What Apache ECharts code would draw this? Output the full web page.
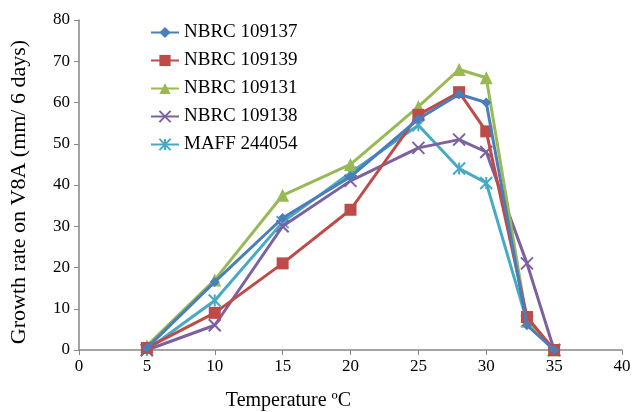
<!DOCTYPE html>
<html><head><meta charset="utf-8">
<script src="https://cdn.jsdelivr.net/npm/echarts@6/dist/echarts.min.js"></script>
<style>html,body{margin:0;padding:0;background:#fff}#c{width:634px;height:412px}</style>
</head><body><div id="c"></div>
<script>
const temps = [5, 10, 15, 20, 25, 28, 30, 33, 35];
const seriesNames = ['NBRC 109137', 'NBRC 109139', 'NBRC 109131', 'NBRC 109138', 'MAFF 244054'];
const nbrc109137 = [0.5, 16.5, 32, 42, 56, 62, 60, 6, 0];
const nbrc109139 = [0.5, 9, 21, 34, 57, 62.5, 53, 8, 0];
const nbrc109131 = [1, 17, 37.5, 45, 59, 68, 66, 7, 0];
const nbrc109138 = [0, 6, 30, 41, 49, 51, 48, 21, 0];
const maff244054 = [0, 12, 31, 43, 54.5, 44, 40.5, 7, 0];
const xTicks = [0, 5, 10, 15, 20, 25, 30, 35, 40];
const yTicks = [0, 10, 20, 30, 40, 50, 60, 70, 80];

const colors = ['#4A7EBB', '#BE4B48', '#98B954', '#7D60A0', '#46AAC5'];
const symbols = [
  'diamond', 'rect', 'triangle',
  'path://M0,0L10,10M10,0L0,10',
  'path://M0,0L10,10M10,0L0,10M5,0L5,10'
];
const sizes = [10, 12, 13, 12, 12];
const allData = [nbrc109137, nbrc109139, nbrc109131, nbrc109138, maff244054];

const chart = echarts.init(document.getElementById('c'), null, {renderer: 'canvas'});
const font = 'Liberation Serif, Times New Roman, serif';
chart.setOption({
  animation: false,
  backgroundColor: '#fff',
  textStyle: {fontFamily: font},
  grid: {left: 79, right: 12, top: 20, bottom: 62, containLabel: false, outerBoundsMode: 'none'},
  legend: {
    orient: 'vertical', left: 150, top: 23, itemGap: 9, padding: 0,
    itemWidth: 28, itemHeight: 14,
    textStyle: {fontFamily: font, fontSize: 19, color: '#000'},
    data: seriesNames
  },
  xAxis: {
    type: 'value', min: xTicks[0], max: xTicks[xTicks.length - 1], interval: 5,
    name: 'Temperature ºC', nameLocation: 'middle', nameGap: 41,
    nameTextStyle: {fontFamily: font, fontSize: 20, color: '#000', padding: [0, 124, 0, 0]},
    axisLine: {lineStyle: {color: '#868686', width: 1.5}},
    axisTick: {show: true, inside: false, length: 5, lineStyle: {color: '#868686'}},
    axisLabel: {fontFamily: font, fontSize: 17, color: '#000', margin: 8},
    splitLine: {show: false}
  },
  yAxis: {
    type: 'value', min: yTicks[0], max: yTicks[yTicks.length - 1], interval: 10,
    name: 'Growth rate on V8A (mm/ 6 days)', nameLocation: 'middle', nameGap: 49,
    nameTextStyle: {fontFamily: font, fontSize: 22, color: '#000', padding: [0, 14, 0, 0]},
    axisLine: {show: true, lineStyle: {color: '#868686', width: 1.5}},
    axisTick: {show: true, inside: false, length: 5, lineStyle: {color: '#868686'}},
    axisLabel: {fontFamily: font, fontSize: 17, color: '#000', margin: 9},
    splitLine: {show: false}
  },
  series: seriesNames.map((n, i) => ({
    name: n, type: 'line',
    data: temps.map((t, j) => [t, allData[i][j]]),
    symbol: symbols[i], symbolSize: sizes[i],
    showAllSymbol: true,
    lineStyle: {color: colors[i], width: 3},
    itemStyle: {color: i >= 3 ? 'rgba(0,0,0,0)' : colors[i], borderColor: colors[i], borderWidth: i >= 3 ? 2 : 0},
    z: 10 - i
  }))
});
</script></body></html>
